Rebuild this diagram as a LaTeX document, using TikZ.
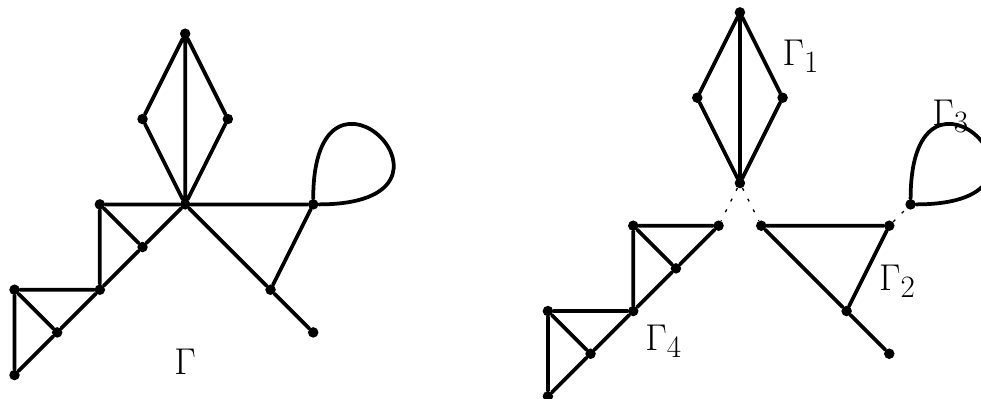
\documentclass[tikz,border=0pt]{standalone}
\begin{document}
\begin{tikzpicture}[
  vert/.style={circle, fill, inner sep=0pt, minimum size=7pt},
  edge/.style={line width=2.5pt, line cap=round, line join=round},
  cut/.style={line width=0.9pt, dash pattern=on 2pt off 6pt},
  lab/.style={font=\Huge, inner sep=0pt}
]
  \useasboundingbox (-0.34,-0.54) rectangle (22.65,8.79);

  % the whole graph
  \node[vert] (top) at (4,8) {};
  \node[vert] (left) at (3,6) {};
  \node[vert] (right) at (5,6) {};
  \node[vert] (hub) at (4,4) {};
  \node[vert] (a) at (2,4) {};
  \node[vert] (b) at (3,3) {};
  \node[vert] (d) at (2,2) {};
  \node[vert] (e) at (0,2) {};
  \node[vert] (f) at (1,1) {};
  \node[vert] (g) at (0,0) {};
  \node[vert] (rt) at (7,4) {};
  \node[vert] (h) at (6,2) {};
  \node[vert] (k) at (7,1) {};
  \node[lab] (gam) at (4,0.32) {$\Gamma$};

  \draw[edge] (top) -- (left) -- (hub) -- (right) -- (top) -- (hub);
  \draw[edge] (a) -- (hub) -- (rt) -- (h) -- (hub);
  \draw[edge] (h) -- (k);
  \draw[edge] (hub) -- (b) -- (a) -- (d) -- (b);
  \draw[edge] (d) -- (e) -- (f) -- (d) -- (f) -- (g) -- (e);
  \draw[edge] (rt) to[out=90, in=0, distance=4.03cm] (rt);

  % the pieces
  \node[vert] (top1) at (17,8.5) {};
  \node[vert] (left1) at (16,6.5) {};
  \node[vert] (right1) at (18,6.5) {};
  \node[vert] (hub1) at (17,4.5) {};
  \node[lab] (gam1) at (18.43,7.47) {$\Gamma_1$};

  \node[vert] (hub2) at (17.5,3.5) {};
  \node[vert] (rt2) at (20.5,3.5) {};
  \node[vert] (h2) at (19.5,1.5) {};
  \node[vert] (k2) at (20.5,0.5) {};
  \node[lab] (gam2) at (20.69,2.2) {$\Gamma_2$};

  \node[vert] (v3) at (21,4) {};
  \node[lab] (gam3) at (21.94,6.07) {$\Gamma_3$};

  \node[vert] (hub4) at (16.5,3.5) {};
  \node[vert] (a4) at (14.5,3.5) {};
  \node[vert] (b4) at (15.5,2.5) {};
  \node[vert] (d4) at (14.5,1.5) {};
  \node[vert] (e4) at (12.5,1.5) {};
  \node[vert] (f4) at (13.5,0.5) {};
  \node[vert] (g4) at (12.5,-0.5) {};
  \node[lab] (gam4) at (15.21,0.8) {$\Gamma_4$};

  \draw[edge] (top1) -- (left1) -- (hub1) -- (right1) -- (top1) -- (hub1);
  \draw[edge] (hub2) -- (rt2) -- (h2) -- (hub2);
  \draw[edge] (h2) -- (k2);
  \draw[edge] (v3) to[out=90, in=0, distance=4.03cm] (v3);
  \draw[edge] (a4) -- (hub4) -- (b4) -- (a4) -- (d4) -- (b4);
  \draw[edge] (d4) -- (e4) -- (f4) -- (d4) -- (f4) -- (g4) -- (e4);

  \draw[cut] (hub1) -- (hub4);
  \draw[cut] (hub1) -- (hub2);
  \draw[cut] (rt2) -- (v3);
\end{tikzpicture}
\end{document}
